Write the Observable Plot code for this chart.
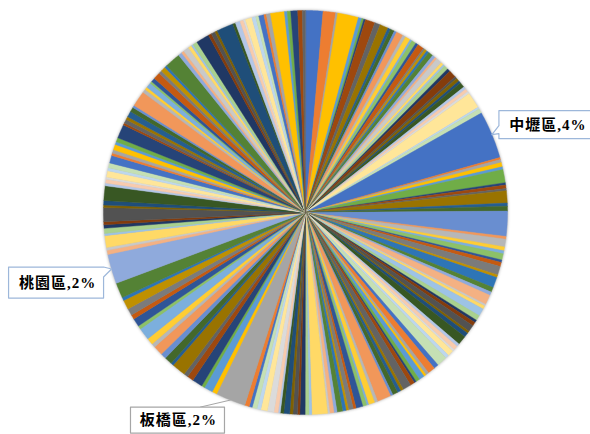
<!DOCTYPE html>
<html>
<head>
<meta charset="utf-8">
<script src="https://cdn.jsdelivr.net/npm/d3@7"></script>
<script src="https://cdn.jsdelivr.net/npm/@observablehq/plot@0.6"></script>
<style>
  html, body { margin: 0; padding: 0; background: #fff; }
  #chart svg { display: block; }
  #chart text { letter-spacing: 1px; }
</style>
</head>
<body>
<div id="chart"></div>
<script>
// Slice values, clockwise from 12 o'clock (unlabelled districts between the named ones)
const valuesA = [50,36,6,60,10,6,5,28,16,24,8,12,7,20,9,15,6,13,8,18,5,7,7,14,9,6,17,8,5,12,9,22,6,10,7,15,8,9,7,46,6,13];
const valuesB = [6,9,12,8,38,7,10,6,35,9, 14,72,8,22,11,9,18,7,12,25, 8,30,14,10,28,6,9,22,15,8,
                 11,19,7,13,26,9,12,6,17,10, 30,14,21,9,7,16,11,6,13,24, 8,10,15,7,40,9,18,6,11,20,
                 8,14,7,10,16,9,12,6,45,8, 11,15,7,13,9,17,10,6,12,19, 19,11,14,9,13];
const valuesC = [14,25,9,30,18,12,40,8,22,16,28,11,19,35,10,24,13,20,27,9,44];
const valuesD = [12,8,34,6,15,10,9,40,7,13, 42,8,11,6,18,9,14,22,7,10, 16,8,12,40,6,11,9,17,13,7,
                 45,10,8,15,6,12,20,9,14,7, 45,11,8,16,10,6,13,38,9,12, 7,48,8,14,10,6,19,11,9,15,
                 7,12,40,8,10,20,13,9];

// Labelled districts and their values
const namedDistricts = ["中壢區", "板橋區", "桃園區"];
const namedValues = [137, 86, 85];

// Office-style chart palette, cycled by slice index
const palette = [
  "#4472C4","#ED7D31","#A5A5A5","#FFC000","#5B9BD5","#70AD47",
  "#264478","#9E480E","#636363","#997300","#255E91","#43682B",
  "#698ED0","#F1975A","#B7B7B7","#FFCD33","#7CAFDD","#8CC168",
  "#2F5597","#C55A11","#7B7B7B","#BF9000","#2E75B6","#548235",
  "#8FAADC","#F4B183","#C9C9C9","#FFD966","#9DC3E6","#A9D18E",
  "#203864","#843C0C","#525252","#7F6000","#1F4E79","#385723",
  "#B4C7E7","#F8CBAD","#DBDBDB","#FFE699","#BDD7EE","#C5E0B4"
];

// Assemble the slice table in drawing order
const rows = [];
const add = (name, value) => rows.push({name, value, i: rows.length});
valuesA.forEach(v => add("", v));
add(namedDistricts[0], namedValues[0]);
valuesB.forEach(v => add("", v));
add(namedDistricts[1], namedValues[1]);
valuesC.forEach(v => add("", v));
add(namedDistricts[2], namedValues[2]);
valuesD.forEach(v => add("", v));

const total = d3.sum(rows, d => d.value);
const arcs = d3.pie().sort(null).value(d => d.value)(rows);

// Unit-circle geometry (y up); angle 0 at 12 o'clock, clockwise
const pt = (a, r = 1) => [r * Math.sin(a), r * Math.cos(a)];
const wedges = arcs.map(a => {
  const n = Math.max(2, Math.ceil((a.endAngle - a.startAngle) / (Math.PI / 450)));
  const ring = [[0, 0]];
  for (let k = 0; k <= n; ++k) ring.push(pt(a.startAngle + (a.endAngle - a.startAngle) * k / n));
  ring.push([0, 0]);
  return {type: "Feature", properties: a.data, geometry: {type: "Polygon", coordinates: [ring]}};
});

// Page size and where the pie sits in it
const W = 590, H = 434;
const R = 202, CX = 305, CY = 212;
const k = R; // pixels per unit radius
const off = (p, dx, dy) => [p[0] + dx / k, p[1] - dy / k];

// Projection extent covering the whole page, in unit-radius coordinates
const extent = {type: "Polygon", coordinates: [[
  [-CX / R, -(H - CY) / R], [(W - CX) / R, -(H - CY) / R],
  [(W - CX) / R, CY / R], [-CX / R, CY / R], [-CX / R, -(H - CY) / R]
]]};

// Callout layouts (pixel offsets from the slice's outer mid-point)
const layout = {
  "中壢區": {shape: [[7,-24],[101,-24],[101,4],[7,4],[7,-1],[0,0],[7,-9]], text: [56, -10], stroke: "#9DB7DA"},
  "桃園區": {shape: [[-103,-2],[-8,-2],[0,0],[-8,8],[-8,29],[-103,29]], text: [-54, 14], stroke: "#9DB7DA"},
  "板橋區": {shape: [[-100,7],[-6,7],[-6,33],[-100,33]], leader: [[0,0],[-30,7]], text: [-52, 20], stroke: "#A6A6A6"}
};

const boxes = [], leaders = [], labels = [];
for (const a of arcs) {
  const L = layout[a.data.name];
  if (!L) continue;
  const tip = pt((a.startAngle + a.endAngle) / 2);
  const ring = L.shape.map(([dx, dy]) => off(tip, dx, dy));
  ring.push(ring[0]);
  boxes.push({type: "Feature", properties: {stroke: L.stroke}, geometry: {type: "Polygon", coordinates: [ring]}});
  if (L.leader) leaders.push({type: "Feature", properties: {}, geometry: {type: "LineString", coordinates: L.leader.map(([dx, dy]) => off(tip, dx, dy))}});
  const [tx, ty] = off(tip, ...L.text);
  labels.push({x: tx, y: ty, text: `${a.data.name},${d3.format(".0%")(a.data.value / total)}`});
}

const chart = Plot.plot({
  width: W, height: H,
  margin: 0,
  projection: {type: "reflect-y", domain: extent, clip: false},
  color: {type: "ordinal", domain: d3.range(palette.length), range: palette},
  marks: [
    Plot.geo(wedges, {
      fill: d => d.properties.i % palette.length,
      stroke: d => d.properties.i % palette.length,
      strokeWidth: 0.4
    }),
    Plot.geo(leaders, {stroke: "#A6A6A6", strokeWidth: 1}),
    Plot.geo(boxes, {fill: "white", stroke: d => d.properties.stroke, strokeWidth: 1.2}),
    Plot.text(labels, {
      x: "x", y: "y", text: "text",
      fontSize: 15, fontWeight: "bold", fill: "black",
      fontFamily: "'Liberation Serif', 'Noto Sans CJK TC', serif"
    })
  ]
});

const pie = chart.querySelector('g[aria-label="geo"]');
if (pie) pie.style.filter = "drop-shadow(0px 0px 1.5px rgba(0,0,0,0.35))";
document.getElementById("chart").append(chart);
</script>
</body>
</html>
